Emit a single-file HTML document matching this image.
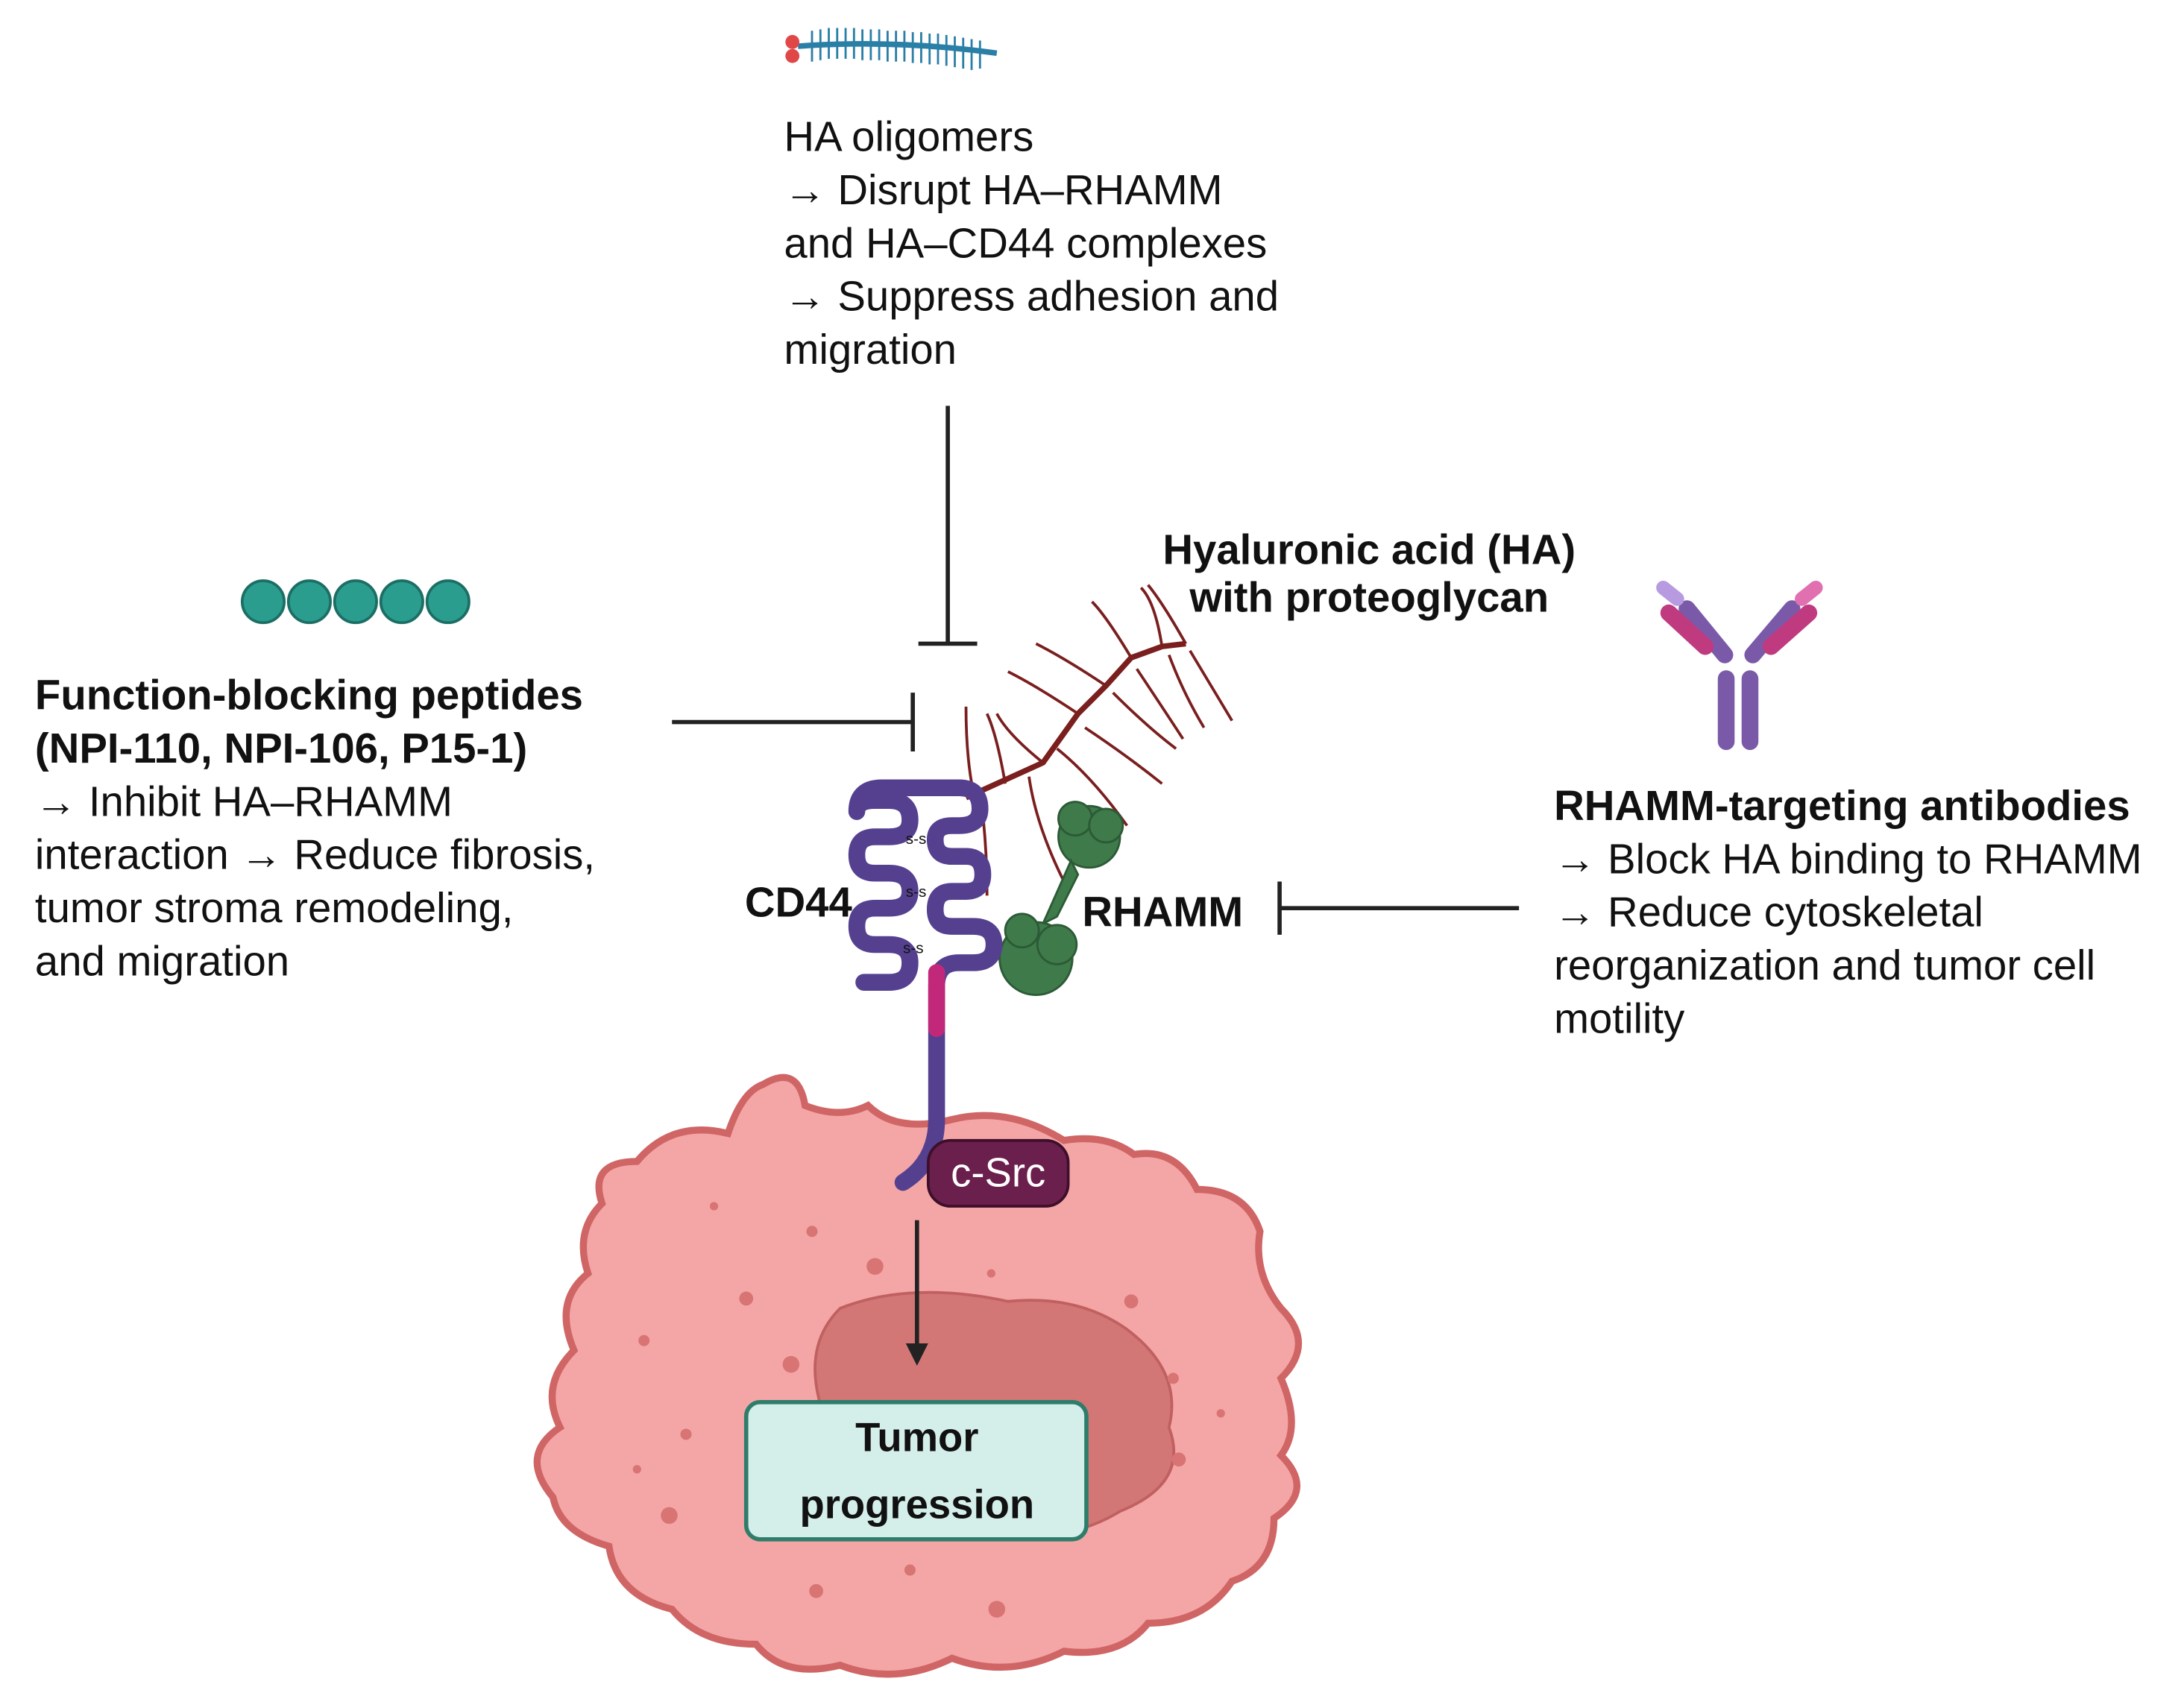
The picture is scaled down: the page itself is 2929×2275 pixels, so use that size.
<!DOCTYPE html>
<html><head><meta charset="utf-8"><style>
html,body{margin:0;padding:0;background:#fff}
svg{display:block}
text{font-family:"Liberation Sans","DejaVu Sans",sans-serif;fill:#111}
.b{font-weight:bold}
</style></head><body>
<svg width="2929" height="2275" viewBox="0 0 1560 1212" preserveAspectRatio="none" xmlns="http://www.w3.org/2000/svg">
<path d="M570 33 Q640 28 712 38" stroke="#2a7fa6" stroke-width="4" fill="none"/>
<g stroke="#2a7fa6" stroke-width="1.5">
<path d="M580 22v22M586 21v22M592 20v22M598 20v22M604 20v22M610 20v22M616 21v22M622 21v22M628 21v22M634 22v22M640 22v22M646 22v22M652 23v22M658 23v22M664 24v22M670 24v22M676 25v22M682 26v22M688 27v22M694 28v22M700 29v20"/>
</g>
<circle cx="566" cy="30" r="5" fill="#e04848"/><circle cx="566" cy="40" r="5" fill="#e04848"/>
<g font-size="30">
<text x="560" y="108">HA oligomers</text>
<text x="560" y="146">→ Disrupt HA–RHAMM</text>
<text x="560" y="184">and HA–CD44 complexes</text>
<text x="560" y="222">→ Suppress adhesion and</text>
<text x="560" y="260">migration</text>
</g>
<g stroke="#222" stroke-width="3">
<line x1="677" y1="290" x2="677" y2="460"/><line x1="656" y1="460" x2="698" y2="460"/>
<line x1="480" y1="516" x2="652" y2="516"/><line x1="652" y1="495" x2="652" y2="537"/>
<line x1="915" y1="649" x2="1085" y2="649"/><line x1="914" y1="630" x2="914" y2="668"/>
</g>
<g fill="#2a9d8f" stroke="#1c6e64" stroke-width="2">
<circle cx="188" cy="430" r="15"/><circle cx="221" cy="430" r="15"/><circle cx="254" cy="430" r="15"/><circle cx="287" cy="430" r="15"/><circle cx="320" cy="430" r="15"/>
</g>
<g font-size="30">
<text x="25" y="507" class="b">Function-blocking peptides</text>
<text x="25" y="545" class="b">(NPI-110, NPI-106, P15-1)</text>
<text x="25" y="583">→ Inhibit HA–RHAMM</text>
<text x="25" y="621">interaction → Reduce fibrosis,</text>
<text x="25" y="659">tumor stroma remodeling,</text>
<text x="25" y="697">and migration</text>
</g>
<text x="978" y="403" font-size="30" class="b" text-anchor="middle">Hyaluronic acid (HA)</text>
<text x="978" y="437" font-size="30" class="b" text-anchor="middle">with proteoglycan</text>
<g fill="none" stroke="#7a1e1e" stroke-width="2">
<path d="M690 570 L745 545 L770 510 L790 490 L808 470 L830 462 L847 460" stroke-width="4"/>
<path d="M700 567 Q705 600 705 640"/><path d="M695 565 Q690 540 690 505"/>
<path d="M718 560 Q712 525 705 510"/><path d="M735 555 Q740 590 760 630"/>
<path d="M745 545 Q720 525 712 510"/><path d="M755 535 Q780 555 805 590"/>
<path d="M770 510 Q740 490 720 480"/><path d="M775 520 Q805 540 830 560"/>
<path d="M790 490 Q760 470 740 460"/><path d="M795 495 Q820 520 840 535"/>
<path d="M808 470 Q790 440 780 430"/><path d="M812 478 Q830 505 845 528"/>
<path d="M830 462 Q825 430 815 420"/><path d="M835 468 Q845 495 860 520"/>
<path d="M847 460 Q830 430 820 418"/><path d="M850 465 Q865 490 880 515"/>
</g>
<g fill="#3e7a4a" stroke="#2c5a36" stroke-width="1.5">
<circle cx="778" cy="598" r="22"/><circle cx="768" cy="585" r="12"/><circle cx="790" cy="590" r="12"/>
<path d="M765 615 L770 625 L755 655 L745 660 Z"/>
<circle cx="740" cy="685" r="26"/><circle cx="730" cy="665" r="12"/><circle cx="755" cy="675" r="14"/>
</g>
<text x="532" y="655" font-size="30" class="b">CD44</text>
<text x="773" y="662" font-size="30" class="b">RHAMM</text>
<g stroke-linecap="round">
<line x1="1233" y1="485" x2="1233" y2="530" stroke="#7a5aa8" stroke-width="12"/>
<line x1="1250" y1="485" x2="1250" y2="530" stroke="#7a5aa8" stroke-width="12"/>
<line x1="1232" y1="468" x2="1205" y2="435" stroke="#7a5aa8" stroke-width="12"/>
<line x1="1218" y1="462" x2="1192" y2="438" stroke="#c03a80" stroke-width="12"/>
<line x1="1252" y1="468" x2="1280" y2="435" stroke="#7a5aa8" stroke-width="12"/>
<line x1="1265" y1="462" x2="1292" y2="438" stroke="#c03a80" stroke-width="12"/>
<line x1="1198" y1="428" x2="1188" y2="420" stroke="#b79ae0" stroke-width="10"/>
<line x1="1287" y1="428" x2="1297" y2="420" stroke="#e070b0" stroke-width="10"/>
</g>
<g font-size="30">
<text x="1110" y="586" class="b">RHAMM-targeting antibodies</text>
<text x="1110" y="624">→ Block HA binding to RHAMM</text>
<text x="1110" y="662">→ Reduce cytoskeletal</text>
<text x="1110" y="700">reorganization and tumor cell</text>
<text x="1110" y="738">motility</text>
</g>
<path d="M545 775 Q570 760 575 790 Q600 800 620 790 Q640 810 680 800 Q720 790 760 815 Q790 810 810 825 Q840 820 855 850 Q890 850 900 880 Q895 910 915 935 Q940 960 915 985 Q930 1020 915 1040 Q940 1065 910 1085 Q910 1120 880 1130 Q860 1160 820 1160 Q800 1185 760 1180 Q720 1200 680 1185 Q640 1205 600 1190 Q560 1200 540 1175 Q500 1175 480 1150 Q440 1140 435 1105 Q400 1095 395 1070 Q370 1040 400 1020 Q385 990 410 965 Q395 930 420 910 Q410 880 430 860 Q420 830 455 830 Q480 800 520 810 Q530 780 545 775 Z" fill="#f4a6a6" stroke="#d06565" stroke-width="5"/>
<path d="M600 935 Q650 915 720 930 Q770 925 805 950 Q845 980 835 1020 Q850 1060 800 1080 Q760 1105 700 1095 Q640 1100 600 1070 Q575 1040 585 1000 Q575 960 600 935 Z" fill="#d37676" stroke="#c06060" stroke-width="2"/>
<g fill="#d87474"><circle cx="580" cy="880" r="4"/><circle cx="625" cy="905" r="6"/><circle cx="533" cy="928" r="5"/><circle cx="460" cy="958" r="4"/><circle cx="565" cy="975" r="6"/><circle cx="808" cy="930" r="5"/><circle cx="838" cy="985" r="4"/><circle cx="842" cy="1043" r="5"/><circle cx="490" cy="1025" r="4"/><circle cx="478" cy="1083" r="6"/><circle cx="583" cy="1137" r="5"/><circle cx="650" cy="1122" r="4"/><circle cx="712" cy="1150" r="6"/><circle cx="510" cy="862" r="3"/><circle cx="708" cy="910" r="3"/><circle cx="872" cy="1010" r="3"/><circle cx="455" cy="1050" r="3"/></g>
<!-- CD44 drawn over cell -->
<path d="M617 702 H635 Q650 702 650 688 Q650 675 635 675 H625 Q612 675 612 662 Q612 649 625 649 H635 Q650 649 650 637 Q650 624 635 624 H625 Q612 624 612 611 Q612 598 625 598 H635 Q650 598 650 586 Q650 572 635 572 H625 Q612 572 612 580 Q612 563 630 563 H685 Q700 563 700 578 Q700 590 685 590 H680 Q668 590 668 600 Q668 612 680 612 H690 Q702 612 702 625 Q702 637 690 637 H680 Q668 637 668 650 Q668 662 680 662 H695 Q710 662 710 675 Q710 688 695 688 H685 Q669 688 669 705 V800 Q669 830 645 845" fill="none" stroke="#55408f" stroke-width="12" stroke-linecap="round" stroke-linejoin="round"/>
<line x1="669" y1="695" x2="669" y2="735" stroke="#c22879" stroke-width="12" stroke-linecap="round"/>
<g font-size="11" fill="#333"><text x="647" y="603">s-s</text><text x="647" y="641">s-s</text><text x="645" y="681">s-s</text></g>
<rect x="663" y="815" width="100" height="47" rx="16" fill="#6b1f4c" stroke="#3d0f2a" stroke-width="2"/>
<text x="713" y="848" font-size="29" text-anchor="middle" style="fill:#fff">c-Src</text>
<line x1="655" y1="872" x2="655" y2="962" stroke="#222" stroke-width="3"/>
<path d="M647 960 L663 960 L655 976 Z" fill="#222"/>
<rect x="533" y="1002" width="243" height="98" rx="10" fill="#d4eeea" stroke="#2e7d6b" stroke-width="3"/>
<text x="655" y="1037" font-size="29" class="b" text-anchor="middle">Tumor</text>
<text x="655" y="1085" font-size="29" class="b" text-anchor="middle">progression</text>
</svg>
</body></html>
